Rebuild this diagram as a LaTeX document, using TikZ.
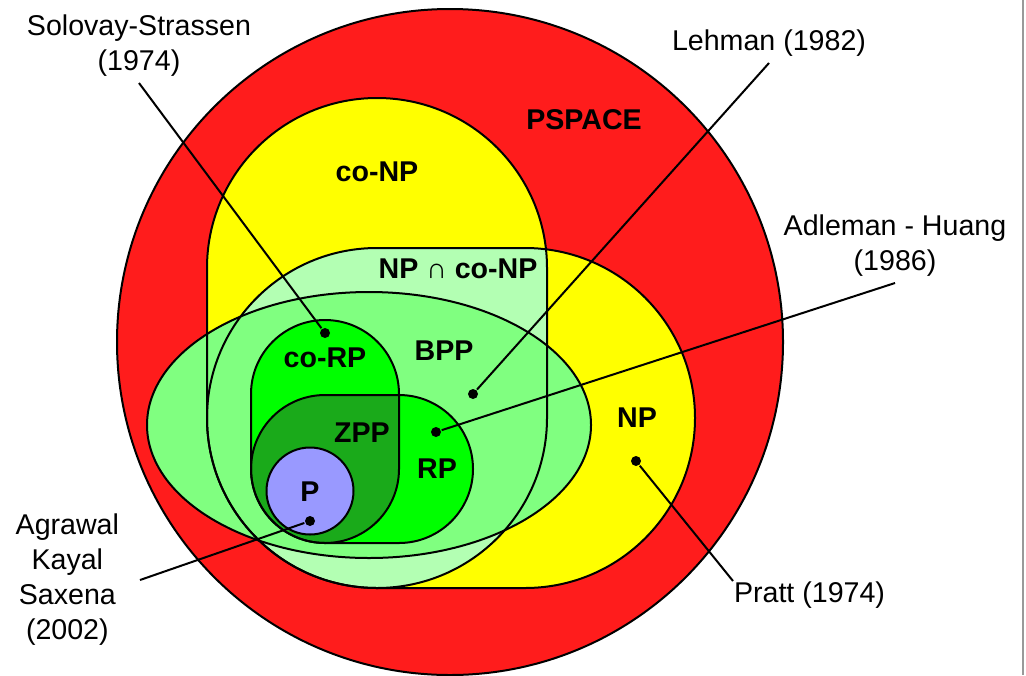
\documentclass[tikz,border=0pt]{standalone}
\usepackage{fontspec}
\setmainfont{Liberation Sans}
\usetikzlibrary{positioning}
\definecolor{pspacecol}{RGB}{255,28,28}
\definecolor{npcol}{RGB}{255,255,0}
\definecolor{npconpcol}{RGB}{179,255,179}
\definecolor{bppcol}{RGB}{128,255,128}
\definecolor{rpcol}{RGB}{0,255,0}
\definecolor{zppcol}{RGB}{26,170,26}
\definecolor{pcol}{RGB}{153,153,255}

\begin{document}
\begin{tikzpicture}[
    x=0.5pt, y=-0.5pt, line width=1pt,
    cls/.style={font=\fontsize{14.3}{17.5}\selectfont\bfseries, inner sep=0pt},
    lbl/.style={font=\fontsize{14.3}{17.5}\selectfont, align=center, inner sep=3pt},
    dot/.style={circle, fill=black, inner sep=0pt, minimum size=5pt},
    big/.style={rounded corners=85pt},
    small/.style={rounded corners=37pt}
  ]
    \useasboundingbox (0,0) rectangle (1026,675);
    \draw[gray!80] (1022.5,0) -- (1022.5,675);

    % filled classes
    \fill[pspacecol] (450,342) circle[radius=333];
    \fill[npcol, big] (207,98) rectangle (547,588);
    \fill[npcol, big] (207,248) rectangle (695,588);
    \begin{scope}
      \clip[big] (207,98) rectangle (547,588);
      \fill[npconpcol, big] (207,248) rectangle (695,588);
    \end{scope}
    \fill[bppcol] (369,425) ellipse[x radius=222, y radius=133];
    \fill[rpcol, small] (251,320) rectangle (399,543);
    \fill[rpcol, small] (251,395) rectangle (473,543);
    \begin{scope}
      \clip[small] (251,320) rectangle (399,543);
      \fill[zppcol, small] (251,395) rectangle (473,543);
    \end{scope}
    \fill[pcol] (310,491) circle[radius=43.5];

    % outlines
    \draw (450,342) circle[radius=333];
    \draw[big] (207,98) rectangle (547,588);
    \draw[big] (207,248) rectangle (695,588);
    \draw (369,425) ellipse[x radius=222, y radius=133];
    \draw[small] (251,320) rectangle (399,543);
    \draw[small] (251,395) rectangle (473,543);
    \draw (310,491) circle[radius=43.5];

    % class names
    \node[cls] (pspace) at (584,120) {PSPACE};
    \node[cls] (conp) at (377,172) {co-NP};
    \node[cls] (npconp) at (458,269) {NP {\mdseries ∩} co-NP};
    \node[cls] (np) at (637,418) {NP};
    \node[cls] (bpp) at (444,351) {BPP};
    \node[cls] (corp) at (325,358) {co-RP};
    \node[cls] (zpp) at (362,433) {ZPP};
    \node[cls] (rp) at (437,469) {RP};
    \node[cls] (p) at (310,492) {P};

    % results
    \foreach \n/\x/\y in {dcorp/325/333, dp/310/521, dbpp/473/394, drp/436/432, dnp/636/461} {
      \node[dot] (\n) at (\x,\y) {};
    }
    \node[lbl, anchor=south] (solovay) at (139,83) {Solovay-Strassen\\(1974)};
    \node[lbl, anchor=south] (lehman) at (769,63) {Lehman (1982)};
    \node[lbl, anchor=south] (adleman) at (895,283) {Adleman - Huang\\(1986)};
    \node[lbl, anchor=north west, inner sep=0pt] (pratt) at (733,581) {Pratt (1974)};
    \node[lbl, anchor=east, inner xsep=10pt] (aks) at (140,580) {Agrawal\\Kayal\\Saxena\\(2002)};

    \draw (solovay.south) -- (dcorp);
    \draw (lehman.south) -- (dbpp);
    \draw (adleman.south) -- (drp);
    \draw (pratt.north west) -- (dnp);
    \draw (aks.east) -- (dp);
\end{tikzpicture}
\end{document}
